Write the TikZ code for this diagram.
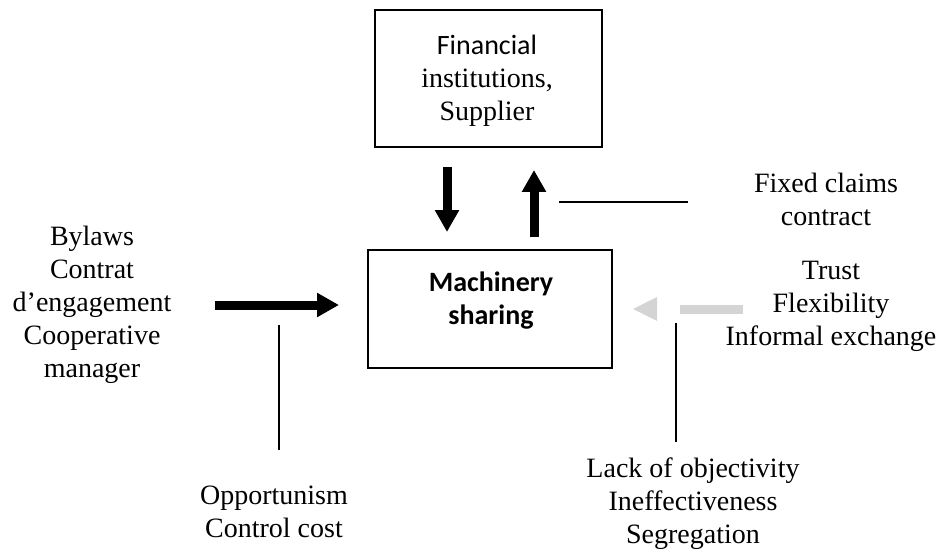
\documentclass[tikz,border=0pt]{standalone}
\usepackage{fontspec}
\setmainfont{Liberation Serif}
\newfontfamily\calib{Carlito}
\usetikzlibrary{arrows.meta}
\definecolor{lightarrow}{RGB}{212,212,212}
\begin{document}
\begin{tikzpicture}[x=0.5pt,y=-0.5pt,
  every node/.style={font=\fontsize{14}{16.5}\selectfont, align=center, inner sep=0pt},
  boxstyle/.style={draw, line width=1.1pt, inner sep=0pt},
  thickarrow/.style={line width=4.5pt, -{Triangle[length=11pt,width=11.5pt]}},
  thinline/.style={line width=0.7pt}]
\useasboundingbox (0,0) rectangle (943,556);
% boxes
\node[boxstyle, minimum width=113.5pt, minimum height=68.5pt] (fin) at (488.5,78.5) {};
\node (fintxt) at (487,81) {{\calib Financial}\\institutions,\\Supplier};
\node[boxstyle, minimum width=122pt, minimum height=59pt] (mach) at (490,309) {};
\node (machtxt) at (491,301) {\calib\bfseries Machinery\\\calib\bfseries sharing};
% texts
\node (left) at (92,305) {Bylaws\\Contrat\\d’engagement\\Cooperative\\manager};
\node (fixed) at (826,199) {Fixed claims\\contract};
\node (trust) at (831,306) {Trust\\Flexibility\\Informal exchange};
\node (opp) at (274,512) {Opportunism\\Control cost};
\node (lack) at (693,504) {Lack of objectivity\\Ineffectiveness\\Segregation};
% anchor coordinates
\coordinate (la1) at (215,305);
\coordinate (la2) at (339,305);
\coordinate (d1) at (447,167);
\coordinate (d2) at (447,232);
\coordinate (u1) at (534,237);
\coordinate (u2) at (534,170);
\coordinate (h1) at (559,202);
\coordinate (h2) at (688,202);
\coordinate (lv1) at (279,325);
\coordinate (lv2) at (279,450);
\coordinate (rv1) at (676,323);
\coordinate (rv2) at (676,442);
\coordinate (g1) at (743,309);
\coordinate (g2) at (680,309);
\coordinate (gt) at (633,309);
% connectors
\draw[thickarrow] (la1) -- (la2);
\draw[thickarrow] (d1) -- (d2);
\draw[thickarrow] (u1) -- (u2);
\draw[thinline] (h1) -- (h2);
\draw[thinline] (lv1) -- (lv2);
\draw[thinline] (rv1) -- (rv2);
\draw[line width=4.5pt, lightarrow] (g1) -- (g2);
\fill[lightarrow] (gt) -- ([yshift=-6pt]gt -| 657,0) -- ([yshift=6pt]gt -| 657,0) -- cycle;
\end{tikzpicture}
\end{document}
